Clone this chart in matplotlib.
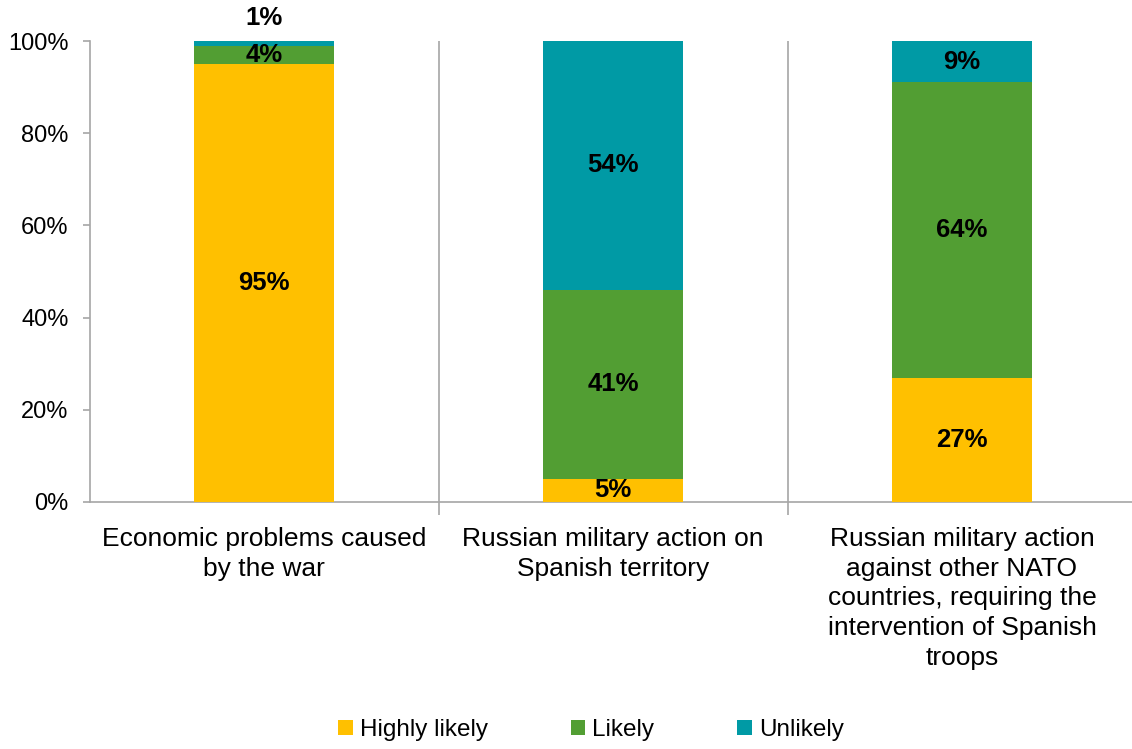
import matplotlib.pyplot as plt
import numpy as np

plt.rcParams['font.family'] = ['Liberation Sans', 'DejaVu Sans']

categories = ["Economic problems caused\nby the war",
              "Russian military action on\nSpanish territory",
              "Russian military action\nagainst other NATO\ncountries, requiring the\nintervention of Spanish\ntroops"]
series_names = ["Highly likely", "Likely", "Unlikely"]
highly_likely = [95, 5, 27]
likely = [4, 41, 64]
unlikely = [1, 54, 9]
COLORS = ["#FFC000", "#529E33", "#009AA5"]

fig = plt.figure(figsize=(11.32, 7.49), dpi=100)
ax = fig.add_axes([89.5 / 1132, 1 - 502 / 749, 1047 / 1132, 461 / 749])

x = np.arange(len(categories))
data = [highly_likely, likely, unlikely]
bottom = np.zeros(len(categories))
for vals, name, col in zip(data, series_names, COLORS):
    vals = np.array(vals, dtype=float)
    ax.bar(x, vals, width=0.4, bottom=bottom, color=col, label=name,
           edgecolor="none", zorder=3)
    for xi, v, b in zip(x, vals, bottom):
        if v >= 2:
            y = b + v / 2
        else:
            y = 105
        ax.text(xi, y, f"{int(v)}%", ha="center", va="center",
                fontsize=18.5, fontweight="bold", clip_on=False, zorder=4)
    bottom += vals

ax.set_xlim(-0.5, 2.5)
ax.set_ylim(0, 100)
ax.set_yticks(range(0, 101, 20))
ax.set_yticklabels([f"{v}%" for v in range(0, 101, 20)], fontsize=17)
ax.set_xticks(x)
ax.set_xticklabels(categories, fontsize=19, linespacing=1.3)
ax.set_xticks([0.5, 1.5], minor=True)
ax.tick_params(axis="x", which="major", length=0, pad=18)
ax.tick_params(axis="x", which="minor", length=9, color="#A6A6A6", width=1.2)
ax.tick_params(axis="y", length=5, color="#A6A6A6", width=1.2, pad=10)
ax.grid(axis="x", which="minor", color="#A6A6A6", linewidth=1.2, zorder=1)

for s in ["top", "right"]:
    ax.spines[s].set_visible(False)
for s in ["left", "bottom"]:
    ax.spines[s].set_color("#A6A6A6")
    ax.spines[s].set_linewidth(1.2)

fig.legend(loc="center", bbox_to_anchor=(0.522, 1 - 730 / 749), ncol=3,
           frameon=False, fontsize=17.5, handlelength=0.6, handleheight=0.6,
           handletextpad=0.3, columnspacing=3.4)

fig.savefig("out.png", dpi=100)
